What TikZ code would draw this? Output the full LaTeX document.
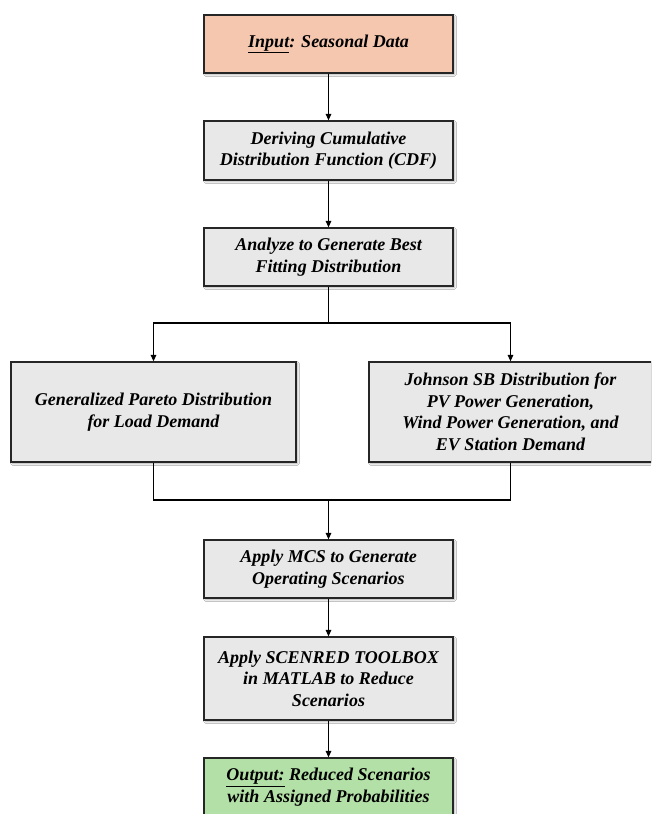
\documentclass[tikz,border=0pt]{standalone}
\usepackage{fontspec}
\setmainfont{Liberation Serif}
\usetikzlibrary{arrows.meta,shadows.blur}
\definecolor{inputfill}{HTML}{F4C7AE}
\definecolor{stepfill}{HTML}{E8E8E8}
\definecolor{outputfill}{HTML}{B3E0A6}
\tikzset{
  stagebox/.style={draw=black!85, line width=1.2pt, fill=stepfill, align=center,
    inner sep=2pt, minimum width=249pt,
    font=\fontsize{18}{21.5}\selectfont\bfseries\itshape,
    blur shadow={shadow xshift=1.5pt, shadow yshift=-1.5pt, shadow blur steps=4, shadow opacity=35}},
  flow/.style={line width=1.3pt, -{Triangle[length=6.5pt,width=5.5pt]}},
  joinline/.style={line width=1.3pt}
}
\begin{document}
\begin{tikzpicture}[x=1pt,y=-1pt]
  \useasboundingbox (0,0) rectangle (651,814);
  \clip (0,0) rectangle (651,814);
  \fill[white] (0,0) rectangle (651,814);

  % main column
  \node[stagebox, fill=inputfill, minimum height=58pt] (inp) at (328.5,44) {\underline{Input}: Seasonal Data};
  \node[stagebox, minimum height=59pt] (cdf) at (328.5,150.5) {Deriving Cumulative\\Distribution Function (CDF)};
  \node[stagebox, minimum height=58pt] (fit) at (328.5,257) {Analyze to Generate Best\\Fitting Distribution};

  % the two fitted distributions
  \node[stagebox, minimum width=285pt, minimum height=100pt] (gp) at (153.5,412) {Generalized Pareto Distribution\\for Load Demand};
  \node[stagebox, minimum width=283pt, minimum height=100pt] (jsb) at (510.5,412) {Johnson SB Distribution for\\PV Power Generation,\\Wind Power Generation, and\\EV Station Demand};

  \node[stagebox, minimum height=58pt] (mcs) at (328.5,569) {Apply MCS to Generate\\Operating Scenarios};
  \node[stagebox, minimum height=83pt] (scn) at (328.5,678.5) {Apply SCENRED TOOLBOX\\in MATLAB to Reduce\\Scenarios};
  \node[stagebox, fill=outputfill, minimum height=58pt] (out) at (328.5,787) {\underline{Output:} Reduced Scenarios\\with Assigned Probabilities};

  % split and merge points
  \coordinate (split) at (328.5,323);
  \coordinate (merge) at (328.5,500);

  \draw[flow] (inp) -- (cdf);
  \draw[flow] (cdf) -- (fit);
  \draw[joinline] (fit.south) -- (split);
  \draw[flow] (split) -| (gp.north);
  \draw[flow] (split) -| (jsb.north);
  \draw[joinline] (gp.south) |- (merge);
  \draw[joinline] (jsb.south) |- (merge);
  \draw[flow] (merge) -- (mcs.north);
  \draw[flow] (mcs) -- (scn);
  \draw[flow] (scn) -- (out);
\end{tikzpicture}
\end{document}
